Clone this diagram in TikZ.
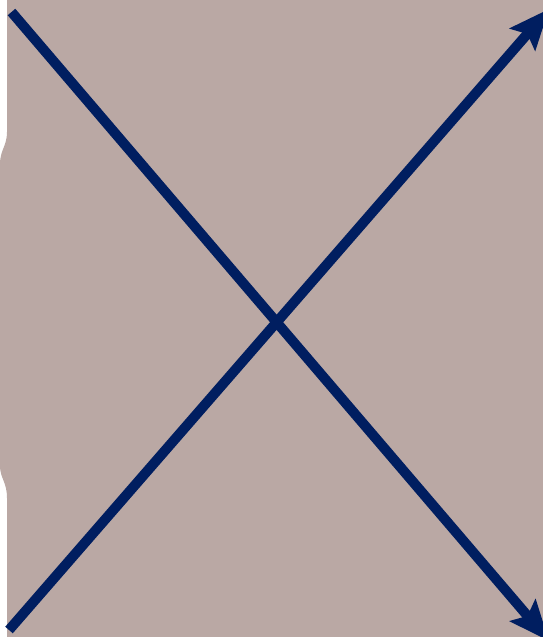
\documentclass[tikz,border=0pt]{standalone}
\usepackage{xcolor}
\usetikzlibrary{arrows.meta}
\definecolor{bgtaupe}{RGB}{186,168,164}
\definecolor{navy}{RGB}{0,30,96}
\tikzset{
  cross/.style={-{Stealth[length=40pt, width=33pt, inset=7pt]}, line width=10pt, navy},
}

\begin{document}
\begin{tikzpicture}[x=1pt, y=-1pt]
\useasboundingbox (0,0) rectangle (543,637);
% backdrop
\fill[bgtaupe] (7,0) -- (543,0) -- (543,637) -- (7,637) -- (7,498)
  .. controls (7,482) and (0,478) .. (0,466) -- (0,164)
  .. controls (0,150) and (7,146) .. (7,132) -- cycle;
\coordinate (tl) at (11.5,12);
\coordinate (br) at (549,641);
\coordinate (bl) at (9,630);
\coordinate (tr) at (549,9);
\begin{scope}
\clip (0,0) rectangle (543,637);
\draw[cross] (tl) -- (br);
\draw[cross] (bl) -- (tr);
\end{scope}
\end{tikzpicture}
\end{document}
